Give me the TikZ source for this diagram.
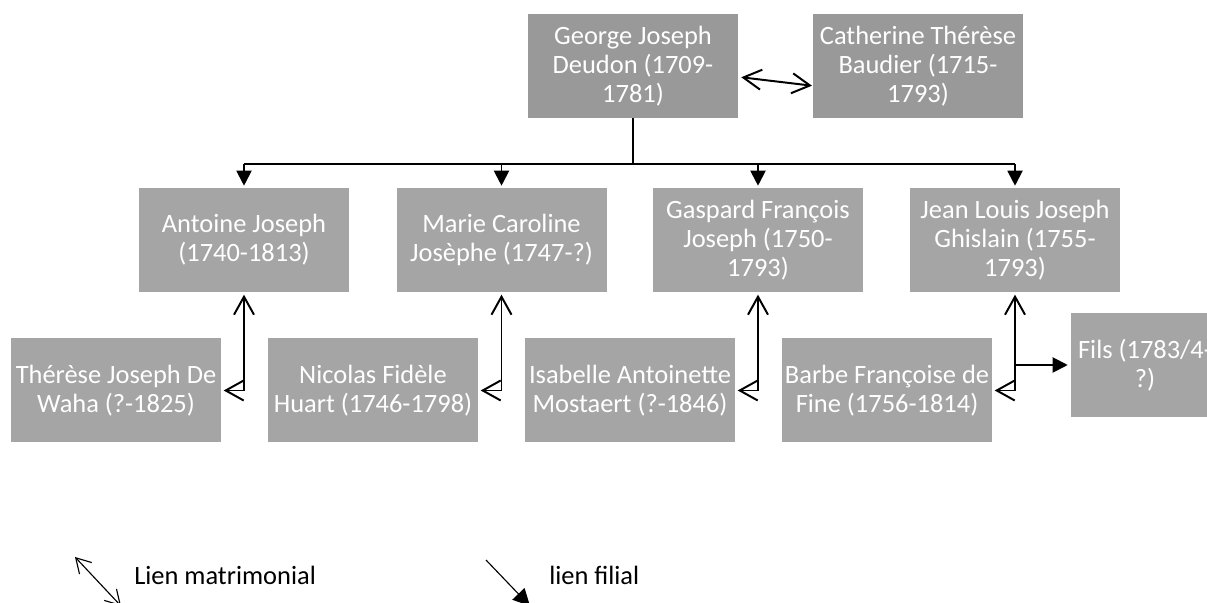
\documentclass[tikz,border=0pt]{standalone}
\usepackage{fontspec}
\setmainfont{Carlito}
\usepackage{tikz}
\usetikzlibrary{arrows.meta,calc}
\definecolor{topgray}{RGB}{153,153,153}
\definecolor{boxgray}{RGB}{165,165,165}
\newcommand{\bW}{5.25}
\newcommand{\bH}{2.6}
\newcommand{\rowA}{13.425}
\newcommand{\rowB}{9.075}
\newcommand{\rowC}{5.3125}
\tikzset{
  pbox/.style   ={draw=none,fill=boxgray,text=white,minimum width=\bW cm,minimum height=\bH cm,
                  inner sep=0pt,align=center,font=\fontsize{18.8}{20.6}\selectfont},
  tbox/.style   ={pbox,fill=topgray},
  lnk/.style    ={line width=1.4pt,black},
  mline/.style  ={lnk,{Straight Barb[length=0.45cm,width=0.5cm]}-{Straight Barb[length=0.45cm,width=0.5cm]},
                  shorten <=0.06cm,shorten >=0.06cm},
  fline/.style  ={lnk,-{Triangle[length=0.375cm,width=0.375cm]},shorten >=0.05cm},
  lgm/.style    ={line width=0.8pt,{Straight Barb[length=0.36cm,width=0.42cm]}-{Straight Barb[length=0.36cm,width=0.42cm]}},
  lgf/.style    ={line width=0.8pt,-{Triangle[length=0.42cm,width=0.42cm]}},
  lgtext/.style ={anchor=base west,inner sep=0pt,font=\fontsize{18.8}{20.6}\selectfont},
}
\newcommand{\pbox}[5][pbox]{\node[#1] (#2) at (#3,#4) {#5};}

\begin{document}
\begin{tikzpicture}
  \useasboundingbox (0,0) rectangle (30.175,15.075);
  \clip (0,0) rectangle (30.175,15.075);
  % parents
  \pbox[tbox]{george}{15.825}{\rowA}{George Joseph\\Deudon (1709-\\1781)}
  \pbox[tbox]{catherine}{22.95}{\rowA}{Catherine Thérèse\\Baudier (1715-\\1793)}
  % children
  \pbox{antoine}{6.1}{\rowB}{Antoine Joseph\\(1740-1813)}
  \pbox{marie}{12.5375}{\rowB}{Marie Caroline\\Josèphe (1747-?)}
  \pbox{gaspard}{18.95}{\rowB}{Gaspard François\\Joseph (1750-\\1793)}
  \pbox{jean}{25.375}{\rowB}{Jean Louis Joseph\\Ghislain (1755-\\1793)}
  % spouses
  \pbox{therese}{2.9}{\rowC}{Thérèse Joseph De\\Waha (?-1825)}
  \pbox{nicolas}{9.325}{\rowC}{Nicolas Fidèle\\Huart (1746-1798)}
  \pbox{isabelle}{15.75}{\rowC}{Isabelle Antoinette\\Mostaert (?-1846)}
  \pbox{barbe}{22.175}{\rowC}{Barbe Françoise de\\Fine (1756-1814)}
  \node[pbox,minimum width=3.7cm] (fils) at (28.625,5.95) {Fils (1783/4-\\?)};
  % links
  \draw[mline] ([xshift=0.015cm,yshift=-0.275cm]george.east) -- ([xshift=0.04cm,yshift=-0.5cm]catherine.west);
  \coordinate (bar) at (15.825,10.975);
  \draw[lnk] (george.south) -- (bar);
  \draw[lnk] (antoine.north |- bar) -- (jean.north |- bar);
  \foreach \c in {antoine,marie,gaspard,jean}{
    \draw[fline] (\c.north |- bar) -- (\c.north);
  }
  \draw[mline] (therese.east) -| (antoine.south);
  \draw[mline] (nicolas.east) -| (marie.south);
  \draw[mline] (isabelle.east) -| (gaspard.south);
  \draw[mline] (barbe.east) -| (jean.south);
  \draw[fline,shorten >=0.075cm] (jean.south |- fils.west) -- (fils.west);
  % legend
  \coordinate (lm1) at (1.875,1.15);  \coordinate (lm2) at (3.025,-0.075);
  \coordinate (lf1) at (12.15,1.075); \coordinate (lf2) at (13.25,-0.075);
  \draw[lgm] (lm1) -- (lm2);
  \node[lgtext] (lmtext) at (3.35,0.45) {Lien matrimonial};
  \draw[lgf] (lf1) -- (lf2);
  \node[lgtext] (lftext) at (13.725,0.45) {lien filial};
\end{tikzpicture}
\end{document}
